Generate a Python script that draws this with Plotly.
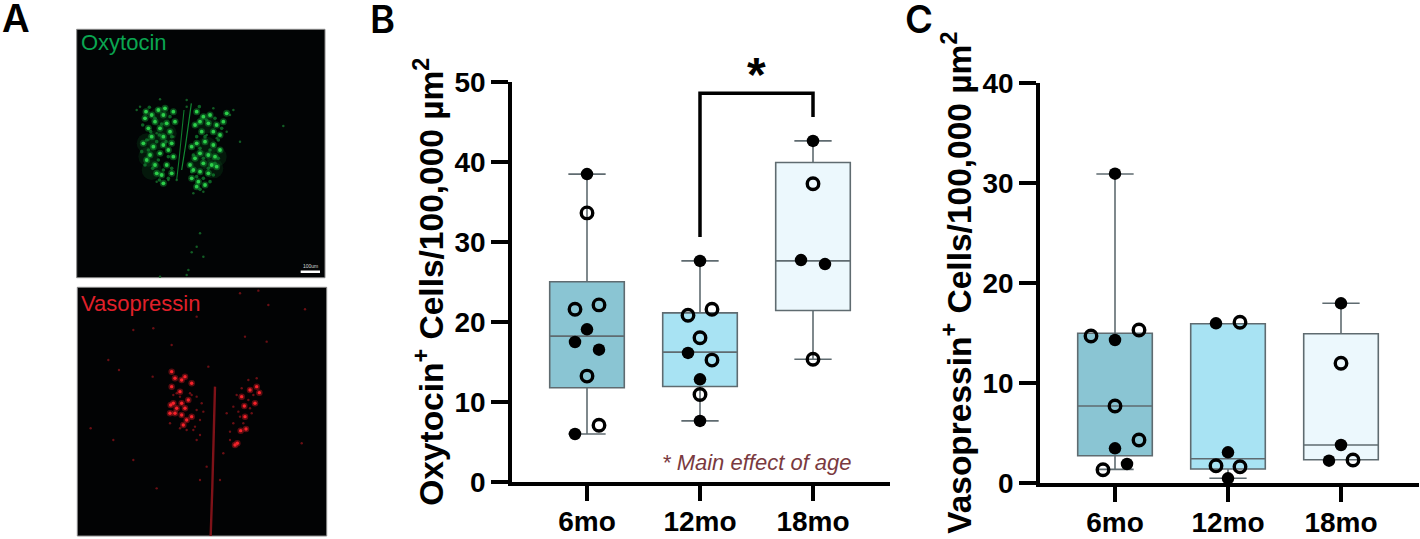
import plotly.graph_objects as go

W, H = 1420, 539

# ---------------- DATA ----------------
categories = ["6mo", "12mo", "18mo"]
box_colors = ["#8AC5D3", "#A8E3F3", "#ECF8FD"]

# Panel B, oxytocin
oxt_q1 = [11.75, 11.9, 21.4]
oxt_median = [18.2, 16.2, 27.6]
oxt_q3 = [25.0, 21.1, 39.9]
oxt_low = [5.96, 7.6, 15.3]
oxt_high = [38.45, 27.6, 42.6]

oxt_filled_group = [0, 0, 0, 0, 0, 1, 1, 1, 1, 2, 2, 2]
oxt_filled_shift = [0, 0, -1, 1, -1, 0, -1, 0, 0, 0, -1, 1]
oxt_filled = [38.45, 19.05, 17.46, 16.5, 5.96, 27.6, 16.1, 12.8, 7.6, 42.6, 27.7, 27.2]

oxt_open_group = [0, 0, 0, 0, 0, 1, 1, 1, 1, 1, 2, 2]
oxt_open_shift = [0, -1, 1, 0, 1, -1, 1, 0, 1, 0, 0, 0]
oxt_open = [33.6, 21.55, 22.1, 13.2, 7.05, 20.8, 21.55, 18.0, 15.2, 10.9, 37.25, 15.3]

# Panel C, vasopressin
avp_q1 = [2.7, 1.37, 2.3]
avp_median = [7.67, 2.4, 3.77]
avp_q3 = [14.94, 15.9, 14.9]
avp_low = [1.33, 0.44, 2.3]
avp_high = [30.87, 15.9, 17.94]

avp_filled_group = [0, 0, 0, 0, 1, 1, 1, 2, 2, 2]
avp_filled_shift = [0, 0, 0, 1, -1, 0, 0, 0, 0, -1]
avp_filled = [30.9, 14.27, 3.44, 1.87, 15.94, 3.04, 0.44, 17.94, 3.77, 2.2]

avp_open_group = [0, 0, 0, 0, 0, 1, 1, 1, 2, 2]
avp_open_shift = [-2, 2, 0, 2, -1, 1, -1, 1, 0, 1]
avp_open = [14.67, 15.27, 7.67, 4.27, 1.3, 16.04, 1.7, 1.6, 11.94, 2.27]

# Bracket over 12mo / 18mo
bracket_x = [1, 1, 2, 2]
bracket_y = [30.6, 48.55, 48.55, 45.6]

# Panel A, labelled spots
green_x = [438, 455, 475, 495, 490, 520, 435, 465, 500, 525, 445, 480, 510, 455, 490, 430, 460, 490, 515,
           450, 480, 505, 520, 465, 500, 485, 515, 490, 440, 470,
           590, 610, 630, 600, 625, 650, 585, 670, 680, 640, 605, 660, 615, 590, 640, 575, 600, 625, 645,
           585, 610, 635, 570, 600, 625, 575, 595, 615, 590, 650, 580, 660]
green_y = [335, 345, 330, 325, 345, 335, 355, 365, 370, 365, 385, 385, 395, 410, 410, 430, 440, 435, 430,
           465, 460, 450, 470, 495, 495, 525, 520, 550, 480, 520,
           335, 350, 345, 365, 370, 375, 375, 365, 340, 395, 395, 405, 425, 430, 435, 440, 460, 465, 470,
           475, 490, 495, 495, 515, 520, 535, 545, 555, 560, 500, 510, 450]
green_mid_x = [448, 465, 485, 510, 428, 452, 478, 515, 440, 470, 498, 425, 445, 475, 505, 435, 458, 490, 515,
               478, 505, 598, 620, 645, 665, 590, 615, 655, 630, 600, 645, 580, 610, 655, 625, 590, 640, 610,
               575, 630, 600]
green_mid_y = [322, 355, 372, 350, 375, 395, 405, 410, 420, 425, 425, 455, 450, 480, 470, 495, 505, 510, 505,
               540, 535, 320, 360, 355, 385, 410, 410, 420, 450, 445, 490, 465, 475, 475, 505, 530, 525, 535,
               515, 545, 568]
green_haze_x = [440, 445, 470, 650, 640, 455, 620, 500, 600, 480, 620]
green_haze_y = [430, 470, 420, 470, 505, 510, 440, 400, 480, 350, 370]
green_strand_a_x = [574, 566, 556, 545]
green_strand_a_y = [310, 370, 440, 510]
green_strand_b_x = [552, 546, 538, 530]
green_strand_b_y = [330, 400, 470, 540]
green_faint_x = [575, 610, 565, 590, 560, 850, 480, 600, 720, 420, 700, 410, 690, 480, 530, 640, 680, 560,
                 580, 470, 520, 650, 620, 470, 505, 445, 610, 560]
green_faint_y = [757, 770, 810, 740, 825, 378, 830, 700, 425, 320, 330, 330, 345, 298, 540, 325, 395, 320,
                 580, 400, 410, 415, 405, 545, 540, 420, 575, 300]

red_x = [515, 525, 545, 515, 555, 575, 540, 520, 512, 545, 565, 530, 555, 510, 545, 525, 550, 575, 560,
         778, 765, 733, 770, 750, 725, 735, 738, 722, 712, 705]
red_y = [275, 295, 300, 320, 290, 310, 335, 370, 375, 370, 360, 385, 385, 400, 405, 400, 435, 410, 420,
         338, 370, 378, 320, 330, 350, 410, 447, 452, 490, 495]
red_faint_x = [357, 458, 272, 515, 625, 400, 720, 775, 805, 915, 735, 800, 470, 400, 340, 905, 590, 460, 325,
               590, 605, 600, 580, 530, 510, 710, 700, 680, 745, 755, 720, 690, 620, 600, 660, 670, 590,
               570, 590, 610, 540, 560, 585, 600, 575, 520, 540, 700, 715, 730, 760, 745, 690, 725, 750, 770]
red_faint_y = [270, 290, 445, 195, 260, 150, 40, 32, 75, 88, 170, 185, 625, 540, 480, 490, 110, 145, 240,
               350, 370, 420, 450, 340, 430, 345, 430, 400, 360, 400, 410, 480, 560, 600, 600, 520, 480,
               340, 390, 395, 350, 450, 440, 465, 345, 345, 445, 380, 395, 430, 345, 300, 455, 325, 385, 295]
red_stalk_x = [645, 642, 637, 632]
red_stalk_y = [320, 450, 620, 768]


def px(x):
    return x / W


def py(y):
    return 1 - y / H


# ---------------- FIGURE ----------------
fig = go.Figure()

STEP = 12 / 113  # one swarm step in category units


def add_panel(xa, ya, q1, med, q3, lo, hi, fg, fs, fv, og, os_, ov):
    for i in range(3):
        fig.add_trace(go.Box(
            x=[i], q1=[q1[i]], median=[med[i]], q3=[q3[i]],
            lowerfence=[lo[i]], upperfence=[hi[i]],
            width=0.66, whiskerwidth=0.5, boxpoints=False,
            fillcolor=box_colors[i],
            line=dict(color="#5f6b70", width=1.6),
            xaxis=xa, yaxis=ya, showlegend=False,
        ))
    fig.add_trace(go.Scatter(
        x=[g + s * STEP for g, s in zip(fg, fs)], y=fv, mode="markers",
        marker=dict(color="#000000", size=12.5),
        xaxis=xa, yaxis=ya, showlegend=False, cliponaxis=False,
    ))
    fig.add_trace(go.Scatter(
        x=[g + s * STEP for g, s in zip(og, os_)], y=ov, mode="markers",
        marker=dict(symbol="circle-open", color="#000000", size=11.5, line=dict(width=3.4, color="#000000")),
        xaxis=xa, yaxis=ya, showlegend=False, cliponaxis=False,
    ))


add_panel("x", "y", oxt_q1, oxt_median, oxt_q3, oxt_low, oxt_high,
          oxt_filled_group, oxt_filled_shift, oxt_filled,
          oxt_open_group, oxt_open_shift, oxt_open)
add_panel("x2", "y2", avp_q1, avp_median, avp_q3, avp_low, avp_high,
          avp_filled_group, avp_filled_shift, avp_filled,
          avp_open_group, avp_open_shift, avp_open)

fig.add_trace(go.Scatter(
    x=bracket_x, y=bracket_y, mode="lines",
    line=dict(color="#000000", width=3.5),
    xaxis="x", yaxis="y", showlegend=False,
))

# ---------------- MICROGRAPHS ----------------
fig.add_trace(go.Scatter(x=green_haze_x, y=green_haze_y, mode="markers", xaxis="x3", yaxis="y3", showlegend=False,
                         marker=dict(color="#0e5f24", size=20, opacity=0.22, line=dict(width=0))))
fig.add_trace(go.Scatter(x=green_faint_x, y=green_faint_y, mode="markers", xaxis="x3", yaxis="y3", showlegend=False,
                         marker=dict(color="#125c24", size=2.5, line=dict(width=0))))
fig.add_trace(go.Scatter(x=green_mid_x, y=green_mid_y, mode="markers", xaxis="x3", yaxis="y3", showlegend=False,
                         marker=dict(color="#0f7a2c", size=3.6, opacity=0.8, line=dict(width=0))))
fig.add_trace(go.Scatter(x=green_x, y=green_y, mode="markers", xaxis="x3", yaxis="y3", showlegend=False,
                         marker=dict(color="#118a30", size=7, opacity=0.5, line=dict(width=0))))
fig.add_trace(go.Scatter(x=green_x, y=green_y, mode="markers", xaxis="x3", yaxis="y3", showlegend=False,
                         marker=dict(color="#2ccf4a", size=3.8, line=dict(width=0))))
fig.add_trace(go.Scatter(x=green_strand_a_x, y=green_strand_a_y, mode="lines", xaxis="x3", yaxis="y3", showlegend=False,
                         line=dict(color="#128a33", width=1.2)))
fig.add_trace(go.Scatter(x=green_strand_b_x, y=green_strand_b_y, mode="lines", xaxis="x3", yaxis="y3", showlegend=False,
                         line=dict(color="#0f7a2c", width=1.1)))

fig.add_trace(go.Scatter(x=red_faint_x, y=red_faint_y, mode="markers", xaxis="x4", yaxis="y4", showlegend=False,
                         marker=dict(color="#6a0f14", size=2.4, line=dict(width=0))))
fig.add_trace(go.Scatter(x=red_x, y=red_y, mode="markers", xaxis="x4", yaxis="y4", showlegend=False,
                         marker=dict(color="#a3141b", size=6.5, opacity=0.55, line=dict(width=0))))
fig.add_trace(go.Scatter(x=red_x, y=red_y, mode="markers", xaxis="x4", yaxis="y4", showlegend=False,
                         marker=dict(color="#f4222a", size=3.4, line=dict(width=0))))
fig.add_trace(go.Scatter(x=red_stalk_x, y=red_stalk_y, mode="lines", xaxis="x4", yaxis="y4", showlegend=False,
                         line=dict(color="#7e1218", width=2.4)))

# ---------------- AXES ----------------
FONT = "Liberation Sans, Arial, sans-serif"
tick_font = dict(family=FONT, size=28, color="#000000", weight="bold")
title_font = dict(family=FONT, size=33.5, color="#000000", weight="bold")


def x_axis(left, right, anchor):
    zero = left + 75
    return dict(
        domain=[px(left), px(right)], anchor=anchor, automargin=False,
        range=[(left - zero) / 113, (right - zero) / 113],
        tickmode="array", tickvals=[0, 1, 2], ticktext=categories,
        ticks="outside", ticklen=16, tickwidth=3.5, tickcolor="#000000",
        ticklabelstandoff=-4,
        showline=True, linewidth=3.5, linecolor="#000000",
        showgrid=False, zeroline=False, tickfont=tick_font,
    )


def y_axis(top, bottom, ymax, step, title, standoff, anchor):
    return dict(
        domain=[py(bottom), py(top)], anchor=anchor, automargin=False,
        range=[0, ymax],
        tickmode="linear", tick0=0, dtick=step,
        ticks="outside", ticklen=17, tickwidth=3.5, tickcolor="#000000",
        showline=True, linewidth=3.5, linecolor="#000000",
        showgrid=False, zeroline=False, tickfont=tick_font,
        title=dict(text=title, font=title_font, standoff=standoff),
    )


fig.update_layout(
    width=W, height=H,
    margin=dict(l=0, r=0, t=0, b=0),
    paper_bgcolor="#ffffff", plot_bgcolor="rgba(0,0,0,0)",
    showlegend=False,
    xaxis=x_axis(512, 890, "y"),
    yaxis=y_axis(81.7, 481.7, 50, 10, "Oxytocin<sup>+</sup> Cells/100,000 µm<sup>2</sup>", 2, "x"),
    xaxis2=x_axis(1040, 1419, "y2"),
    yaxis2=y_axis(82.7, 482.7, 40, 10, "Vasopressin<sup>+</sup> Cells/100,000 µm<sup>2</sup>", 2, "x2"),
    xaxis3=dict(domain=[px(76.7), px(325)], range=[230, 975], anchor="y3", visible=False),
    yaxis3=dict(domain=[py(277.7), py(29.3)], range=[833, 88], anchor="x3", visible=False),
    xaxis4=dict(domain=[px(77.3), px(326.7)], range=[232, 980], anchor="y4", visible=False),
    yaxis4=dict(domain=[py(536), py(287.3)], range=[768, 22], anchor="x4", visible=False),
    shapes=[
        dict(type="rect", xref="paper", yref="paper", layer="below",
             x0=px(76.7), x1=px(325), y0=py(277.7), y1=py(29.3),
             fillcolor="#020405", line=dict(color="#8a8a8a", width=1)),
        dict(type="rect", xref="paper", yref="paper", layer="below",
             x0=px(77.3), x1=px(326.7), y0=py(536), y1=py(287.3),
             fillcolor="#020304", line=dict(color="#8a8a8a", width=1)),
        dict(type="line", xref="x3", yref="y3", x0=902, x1=960, y0=815, y1=815,
             line=dict(color="#ffffff", width=2.5)),
    ],
)


def label(x, y, text, size, color="#000000", family=FONT, **kw):
    fig.add_annotation(
        x=px(x), y=py(y), xref="paper", yref="paper", text=text, showarrow=False,
        xanchor=kw.pop("xanchor", "left"), yanchor="middle",
        font=dict(family=family, size=size, color=color, **kw),
    )


label(0, 18, "A", 38, family="Inter, Liberation Sans", weight=600)
label(368, 19, "B", 38, family="Inter, Liberation Sans", weight=600)
label(903, 19, "C", 38, family="Inter, Liberation Sans", weight=600)
label(79, 43, "Oxytocin", 22, "#0aa651")
label(79, 303, "Vasopressin", 22, "#e0202a")
label(310, 266, "100um", 5, "#d8d8d8", xanchor="center")
label(660, 462.5, "* Main effect of age", 22, "#7a3a40", style="italic")
label(756.5, 74.5, "*", 48, weight="bold", xanchor="center")

fig.write_html("out.html", config=dict(displayModeBar=False), post_script="document.body.style.margin='0';")
